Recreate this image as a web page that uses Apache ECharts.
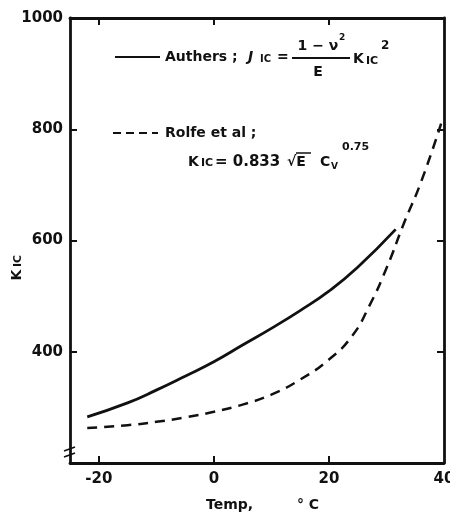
<!DOCTYPE html>
<html>
<head>
<meta charset="utf-8">
<script src="https://cdn.jsdelivr.net/npm/echarts@6/dist/echarts.min.js"></script>
<style>
  html, body { margin: 0; padding: 0; background: #fff; }
  #chart { width: 450px; height: 514px; }
</style>
</head>
<body>
<div id="chart"></div>
<script>
// values (Temp in °C, K_IC)
const authersTemp = [-22, -15, -10, -5, 0, 5, 10, 15, 20, 25, 31.6];
const authersKic = [283, 308, 331, 356, 382, 412, 442, 474, 509, 552, 620];
const rolfeTemp = [-22, -15, -10, -5, 0, 5, 10, 15, 20, 24, 27, 30, 33, 36, 39.5];
const rolfeKic = [263, 268, 274, 282, 292, 305, 323, 350, 386, 428, 482, 550, 630, 705, 810];
const xTicks = [-20, 0, 20, 40];
const yTicks = [400, 600, 800, 1000];

const font = 'DejaVu Sans';
const ink = '#111';

function pairs(xs, ys) {
    return xs.map((x, i) => [x, ys[i]]);
}

let chart = echarts.init(document.getElementById('chart'));

const tickStyle = {show: true, inside: true, length: 7, lineStyle: {color: ink, width: 2}};
const labelStyle = {color: ink, fontFamily: font, fontWeight: 'bold', fontSize: 15, formatter: v => String(v)};
const lineStyle = {show: true, onZero: false, lineStyle: {color: ink, width: 2.8}};

chart.setOption({
    animation: false,
    grid: {left: 70, right: 6, top: 18, bottom: 51, outerBoundsMode: 'none', containLabel: false},
    xAxis: [
        {
            type: 'value', min: -25, max: 40, position: 'bottom',
            axisLine: lineStyle,
            axisTick: Object.assign({customValues: [-20, 0, 20]}, tickStyle),
            axisLabel: Object.assign({customValues: xTicks, margin: 9}, labelStyle),
            splitLine: {show: false}
        },
        {
            type: 'value', min: -25, max: 40, position: 'top',
            axisLine: lineStyle,
            axisTick: Object.assign({customValues: [-20, 0, 20]}, tickStyle),
            axisLabel: {show: false},
            splitLine: {show: false}
        }
    ],
    yAxis: [
        {
            type: 'value', min: 200, max: 1000, position: 'left',
            axisLine: lineStyle,
            axisTick: Object.assign({customValues: [400, 600, 800]}, tickStyle),
            axisLabel: Object.assign({customValues: yTicks, margin: 7}, labelStyle),
            splitLine: {show: false}
        },
        {
            type: 'value', min: 200, max: 1000, position: 'right',
            axisLine: lineStyle,
            axisTick: Object.assign({customValues: [400, 600, 800]}, tickStyle),
            axisLabel: {show: false},
            splitLine: {show: false}
        }
    ],
    series: [
        {
            name: 'Authers',
            type: 'line',
            smooth: true,
            symbol: 'none',
            data: pairs(authersTemp, authersKic),
            lineStyle: {color: ink, width: 2.8}
        },
        {
            name: 'Rolfe et al',
            type: 'line',
            smooth: true,
            symbol: 'none',
            data: pairs(rolfeTemp, rolfeKic),
            lineStyle: {color: ink, width: 2.5, type: [10, 7]}
        }
    ],
    graphic: [
        // legend entry 1
        {type: 'line', shape: {x1: 115, y1: 57, x2: 160, y2: 57}, style: {stroke: ink, lineWidth: 2}},
        {type: 'text', x: 165, y: 57, style: {text: 'Authers ;', font: 'bold 14px ' + font, fill: ink, verticalAlign: 'middle'}},
        {type: 'text', x: 248, y: 57, style: {text: 'J', font: 'italic bold 14px ' + font, fill: ink, verticalAlign: 'middle'}},
        {type: 'text', x: 260, y: 59, style: {text: 'IC', font: 'bold 10px ' + font, fill: ink, verticalAlign: 'middle'}},
        {type: 'text', x: 277, y: 57, style: {text: '=', font: 'bold 14px ' + font, fill: ink, verticalAlign: 'middle'}},
        {type: 'text', x: 318, y: 46, style: {text: '1 − ν', font: 'bold 14px ' + font, fill: ink, align: 'center', verticalAlign: 'middle'}},
        {type: 'text', x: 339, y: 38, style: {text: '2', font: 'bold 9px ' + font, fill: ink, verticalAlign: 'middle'}},
        {type: 'line', shape: {x1: 292, y1: 58, x2: 350, y2: 58}, style: {stroke: ink, lineWidth: 2}},
        {type: 'text', x: 318, y: 72, style: {text: 'E', font: 'bold 14px ' + font, fill: ink, align: 'center', verticalAlign: 'middle'}},
        {type: 'text', x: 353, y: 59, style: {text: 'K', font: 'bold 14px ' + font, fill: ink, verticalAlign: 'middle'}},
        {type: 'text', x: 366, y: 61, style: {text: 'IC', font: 'bold 11px ' + font, fill: ink, verticalAlign: 'middle'}},
        {type: 'text', x: 381, y: 46, style: {text: '2', font: 'bold 12px ' + font, fill: ink, verticalAlign: 'middle'}},
        // legend entry 2
        {type: 'line', shape: {x1: 113, y1: 133, x2: 158, y2: 133}, style: {stroke: ink, lineWidth: 2, lineDash: [8, 5]}},
        {type: 'text', x: 165, y: 133, style: {text: 'Rolfe et al ;', font: 'bold 14px ' + font, fill: ink, verticalAlign: 'middle'}},
        {type: 'text', x: 188, y: 162, style: {text: 'K', font: 'bold 14px ' + font, fill: ink, verticalAlign: 'middle'}},
        {type: 'text', x: 201, y: 163, style: {text: 'IC', font: 'bold 11px ' + font, fill: ink, verticalAlign: 'middle'}},
        {type: 'text', x: 215, y: 162, style: {text: '= 0.833', font: 'bold 15px ' + font, fill: ink, verticalAlign: 'middle'}},
        {type: 'text', x: 287, y: 162, style: {text: '√E', font: 'bold 14px ' + font, fill: ink, verticalAlign: 'middle'}},
        {type: 'line', shape: {x1: 296, y1: 153, x2: 311, y2: 153}, style: {stroke: ink, lineWidth: 1.5}},
        {type: 'text', x: 320, y: 162, style: {text: 'C', font: 'bold 14px ' + font, fill: ink, verticalAlign: 'middle'}},
        {type: 'text', x: 331, y: 167, style: {text: 'V', font: 'bold 9px ' + font, fill: ink, verticalAlign: 'middle'}},
        {type: 'text', x: 342, y: 147, style: {text: '0.75', font: 'bold 11px ' + font, fill: ink, verticalAlign: 'middle'}},
        // axis names
        {type: 'text', x: 17, y: 275, rotation: Math.PI / 2, style: {text: 'K', font: 'bold 14px ' + font, fill: ink, align: 'center', verticalAlign: 'middle'}},
        {type: 'text', x: 18, y: 261, rotation: Math.PI / 2, style: {text: 'IC', font: 'bold 11px ' + font, fill: ink, align: 'center', verticalAlign: 'middle'}},
        {type: 'text', x: 206, y: 505, style: {text: 'Temp,', font: 'bold 14px ' + font, fill: ink, verticalAlign: 'middle'}},
        {type: 'text', x: 297, y: 505, style: {text: '° C', font: 'bold 14px ' + font, fill: ink, verticalAlign: 'middle'}},
        // axis break mark
        {type: 'rect', shape: {x: 67, y: 449, width: 6, height: 6}, style: {fill: '#fff'}},
        {type: 'line', shape: {x1: 64, y1: 451, x2: 75, y2: 447}, style: {stroke: ink, lineWidth: 1.8}},
        {type: 'line', shape: {x1: 64, y1: 457, x2: 75, y2: 453}, style: {stroke: ink, lineWidth: 1.8}}
    ]
});
</script>
</body>
</html>
